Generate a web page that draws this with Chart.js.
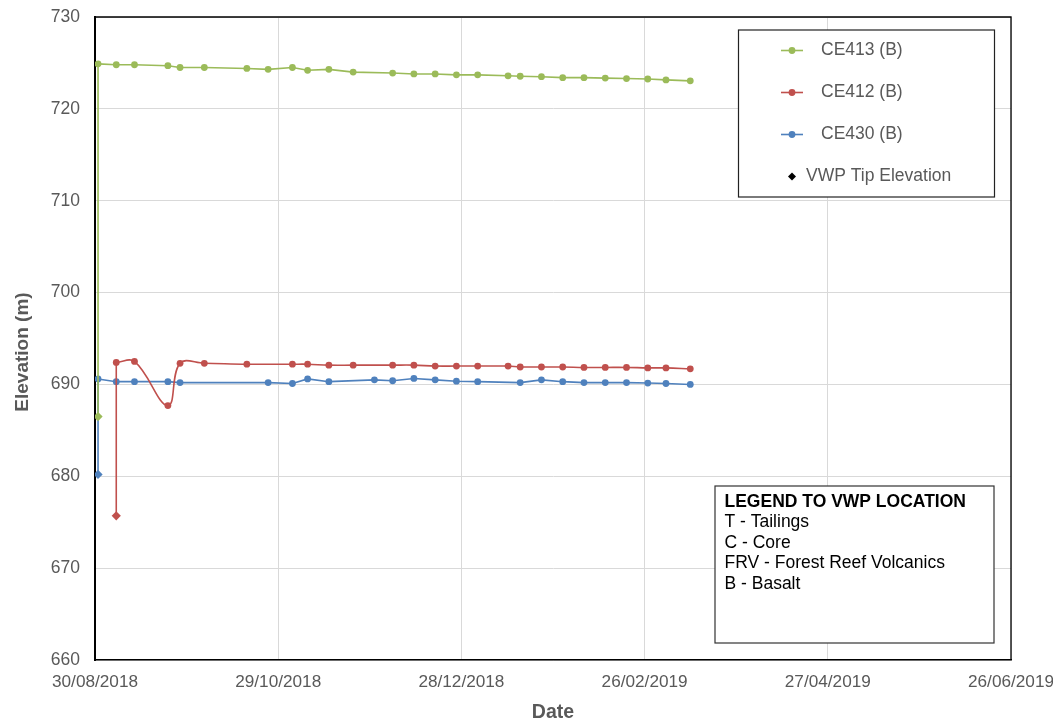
<!DOCTYPE html>
<html>
<head>
<meta charset="utf-8">
<script src="https://cdn.jsdelivr.net/npm/chart.js@4/dist/chart.umd.min.js"></script>
<style>
body{margin:0;background:#fff;overflow:hidden;}
#wrap{position:relative;width:1053px;height:724px;}
canvas{display:block;}
</style>
</head>
<body>
<div id="wrap"><canvas id="vwpChart"></canvas></div>
<script>
//reading dates (dd/mm/yyyy), shared by all three piezometers
let readDates=['31/08/2018','06/09/2018','12/09/2018','23/09/2018','27/09/2018','05/10/2018','19/10/2018','26/10/2018',
  '03/11/2018','08/11/2018','15/11/2018','23/11/2018','30/11/2018','06/12/2018','13/12/2018','20/12/2018','27/12/2018',
  '03/01/2019','13/01/2019','17/01/2019','24/01/2019','31/01/2019','07/02/2019','14/02/2019','21/02/2019','28/02/2019',
  '06/03/2019','14/03/2019'];
//piezometric elevations (m), null = no reading that day
let ce413=[724.9,724.8,724.8,724.7,724.5,724.5,724.4,724.3,724.5,724.2,724.3,724.0,null,723.9,723.8,723.8,723.7,
  723.7,723.6,723.55,723.5,723.4,723.4,723.35,723.3,723.25,723.15,723.05];
let ce412=[null,692.4,692.5,687.7,692.3,692.3,692.2,null,692.2,692.2,692.1,692.1,null,692.1,692.1,692.0,692.0,
  692.0,692.0,691.9,691.9,691.9,691.85,691.85,691.85,691.8,691.8,691.7];
let ce430=[690.6,690.3,690.3,690.3,690.2,null,null,690.2,690.1,690.6,690.3,null,690.5,690.4,690.65,690.5,690.35,
  690.3,null,690.2,690.5,690.3,690.2,690.2,690.2,690.15,690.1,690.0];
//VWP tip elevations
let tipDates=['31/08/2018','06/09/2018','31/08/2018'];
let tipValues=[686.5,675.7,680.2];
let seriesNames=['CE413 (B)','CE412 (B)','CE430 (B)'];
let seriesColors=['#9BBB59','#C0504D','#4F81BD'];
let xTickLabels=['30/08/2018','29/10/2018','28/12/2018','26/02/2019','27/04/2019','26/06/2019'];
let locationNotes=['LEGEND TO VWP LOCATION','T - Tailings','C - Core','FRV - Forest Reef Volcanics','B - Basalt'];

let FONT='"Liberation Sans", Arial, sans-serif';
Chart.defaults.font.family=FONT;

//days since 30/08/2018
function toDay(s){
  let p=s.split('/');
  return (Date.UTC(+p[2],p[1]-1,+p[0])-Date.UTC(2018,7,30))/86400000;
}
function makePoints(values){
  let pts=[];
  values.forEach(function(v,k){
    if(v!==null) pts.push({x:toDay(readDates[k]),y:v});
  });
  return pts;
}

let allValues=[ce413,ce412,ce430];
let datasets=[];
seriesNames.forEach(function(name,i){
  let pts=makePoints(allValues[i]);
  //tip marker joined straight to the first reading
  datasets.push({
    label:name+' tip',
    data:[{x:toDay(tipDates[i]),y:tipValues[i]},pts[0]],
    borderColor:seriesColors[i],
    backgroundColor:seriesColors[i],
    borderWidth:1.6,
    tension:0,
    pointStyle:'rectRot',
    pointRadius:function(c){return c.dataIndex===0?4.6:0;},
    pointBorderWidth:0
  });
  datasets.push({
    label:name,
    data:pts,
    borderColor:seriesColors[i],
    backgroundColor:seriesColors[i],
    borderWidth:1.6,
    tension:i===1?0.4:0,
    pointRadius:3.4,
    pointBorderWidth:0
  });
});

//frame, series legend and location note box
let boxPlugin={
  id:'boxes',
  afterDraw(chart){
    let c=chart.ctx, a=chart.chartArea;
    c.save();
    c.strokeStyle='#000';
    c.lineWidth=1.3;
    c.beginPath();
    c.moveTo(a.left,a.top);c.lineTo(a.right,a.top);c.lineTo(a.right,a.bottom);
    c.stroke();

    //y axis title
    c.save();
    c.translate(23,352);
    c.rotate(-Math.PI/2);
    c.font='bold 19px '+FONT;
    c.fillStyle='#595959';
    c.textAlign='center';c.textBaseline='middle';
    c.fillText('Elevation (m)',0,0);
    c.restore();

    //series legend
    c.fillStyle='#fff';
    c.fillRect(738.5,30,256,167);
    c.strokeStyle='#222';c.lineWidth=1.2;
    c.strokeRect(738.5,30,256,167);
    c.font='17.5px '+FONT;
    c.textBaseline='middle';
    seriesNames.forEach(function(name,i){
      let y=50.5+i*42;
      c.strokeStyle=seriesColors[i];c.lineWidth=1.6;
      c.beginPath();c.moveTo(781,y);c.lineTo(803,y);c.stroke();
      c.fillStyle=seriesColors[i];
      c.beginPath();c.arc(792,y,3.4,0,Math.PI*2);c.fill();
      c.fillStyle='#595959';
      c.fillText(name,821,y);
    });
    let ty=50.5+3*42;
    c.fillStyle='#000';
    c.beginPath();c.moveTo(792,ty-4);c.lineTo(796,ty);c.lineTo(792,ty+4);c.lineTo(788,ty);c.closePath();c.fill();
    c.fillStyle='#595959';
    c.fillText('VWP Tip Elevation',806,ty);

    //location legend
    c.fillStyle='#fff';
    c.fillRect(715,486,279,157);
    c.strokeStyle='#333';c.lineWidth=1.2;
    c.strokeRect(715,486,279,157);
    c.fillStyle='#000';
    c.textBaseline='alphabetic';
    locationNotes.forEach(function(t,i){
      c.font=(i===0?'bold ':'')+'17.5px '+FONT;
      c.fillText(t,724.5,506.5+i*20.5);
    });
    c.restore();
  }
};

let vwpChart=new Chart(document.getElementById('vwpChart'),{
  type:'line',
  data:{datasets:datasets},
  options:{
    responsive:true,
    maintainAspectRatio:false,
    animation:false,
    layout:{padding:{left:0,top:17,right:42,bottom:0}},
    plugins:{legend:{display:false},tooltip:{enabled:false}},
    scales:{
      x:{
        type:'linear',
        min:0,max:301.6,
        afterFit:function(s){s.height=64;s.paddingLeft=0;s.paddingRight=0;},
        grid:{color:'#d9d9d9',drawTicks:false},
        border:{color:'#000',width:1.5},
        ticks:{
          stepSize:60,includeBounds:false,autoSkip:false,maxRotation:0,padding:12,
          color:'#595959',font:{size:17.2},
          callback:function(v){return xTickLabels[Math.round(v/60)];}
        },
        title:{display:true,text:'Date',color:'#595959',font:{size:19.5,weight:'bold'},padding:{top:0,bottom:0}}
      },
      y:{
        min:660,max:730,
        afterFit:function(s){s.width=95;s.paddingTop=0;s.paddingBottom=0;},
        grid:{color:'#d9d9d9',drawTicks:false},
        border:{color:'#000',width:2},
        ticks:{stepSize:10,padding:15,color:'#595959',font:{size:17.5}}
      }
    }
  },
  plugins:[boxPlugin]
});
</script>
</body>
</html>
